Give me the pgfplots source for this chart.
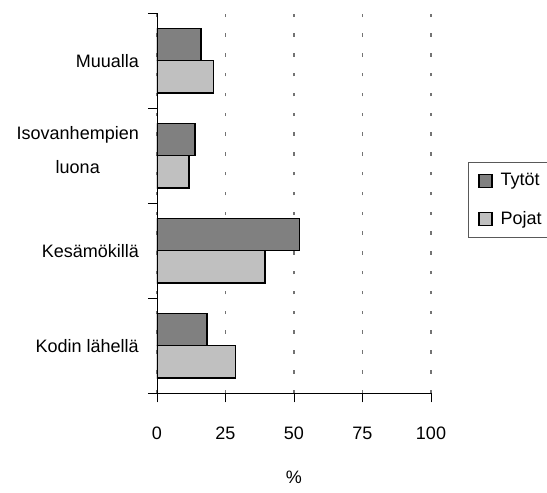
\documentclass[border=0pt]{standalone}
\usepackage{fontspec}
\setmainfont{Liberation Sans}
\usepackage{pgfplots}
\pgfplotsset{compat=1.18}
\definecolor{tyt}{HTML}{808080}
\definecolor{poj}{HTML}{C0C0C0}
\begin{document}
\fontsize{18bp}{21bp}\selectfont
\begin{tikzpicture}
\begin{axis}[
    name=ax,
    scale only axis,
    width=274bp, height=380bp,
    xmin=0, xmax=100,
    ymin=-0.5, ymax=3.5,
    axis x line*=bottom,
    axis y line*=left,
    axis line style={line width=0.9pt},
    xtick={0,25,50,75,100},
    ytick={0,1,2,3},
    yticklabels={Kodin lähellä, Kesämökillä, {Isovanhempien\\luona\rule[-11bp]{0pt}{0pt}}, Muualla},
    minor ytick={-0.5,0.5,1.5,2.5,3.5},
    tick align=outside,
    major tick length=9bp,
    minor tick length=9bp,
    every major y tick/.append style={draw=none},
    every tick/.append style={line width=0.9pt, black},
    xmajorgrids=true,
    major grid style={draw=black!55, line width=1.2pt, dash pattern=on 3.5bp off 16.3bp},
    /pgf/number format/assume math mode=true,
    xticklabel style={anchor=base, yshift=-37bp},
    yticklabel style={align=center, xshift=-3bp, font=\fontsize{18bp}{34bp}\selectfont},
    xlabel={\%},
    xlabel style={at={(axis description cs:0.5,0)}, anchor=center, yshift=-84bp},
    legend style={at={(1.135,0.6095)}, anchor=north west, draw=black!65,
        line width=0.8pt, row sep=19bp, inner xsep=10bp, inner ysep=9bp,
        nodes={inner xsep=4bp},
        /tikz/every odd column/.append style={column sep=4bp},
        font=\fontsize{18bp}{21bp}\selectfont},
    legend cell align=left,
    legend image code/.code={\draw[#1, line width=1.2pt] (0bp,-6.5bp) rectangle (13bp,6.5bp);},
]
\addplot[xbar, bar width=0.34, bar shift=0.17, fill=tyt, draw=black, line width=1.4pt]
    coordinates {(18.2,0) (52.0,1) (13.9,2) (16.1,3)};
\addplot[xbar, bar width=0.34, bar shift=-0.17, fill=poj, draw=black, line width=1.4pt]
    coordinates {(28.6,0) (39.4,1) (11.7,2) (20.6,3)};
\legend{Tytöt, Pojat}
\end{axis}
\pgfresetboundingbox
\path ([xshift=-157bp,yshift=-99bp]ax.south west) rectangle ([xshift=116bp,yshift=13.3bp]ax.north east);
\end{tikzpicture}
\end{document}
